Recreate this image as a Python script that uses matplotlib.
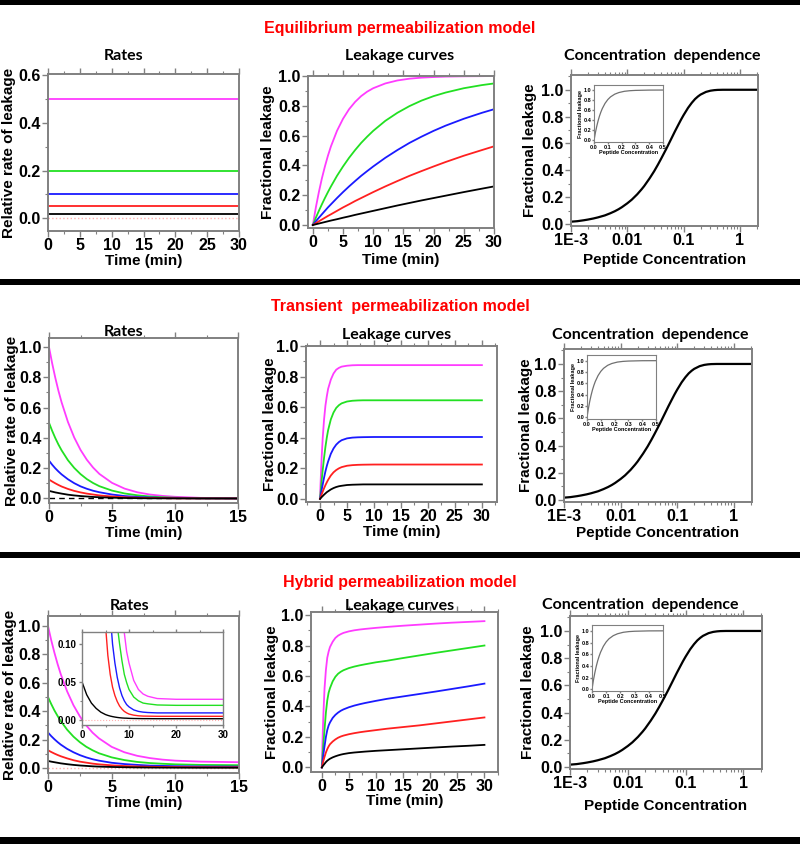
import numpy as np
import matplotlib.pyplot as plt
from matplotlib.patches import Rectangle
from matplotlib.ticker import MultipleLocator, FixedLocator, LogLocator, NullFormatter

plt.rcParams['font.family'] = ['Liberation Sans', 'DejaVu Sans']
plt.rcParams['font.weight'] = 'bold'
plt.rcParams['axes.labelweight'] = 'bold'

# ---------------- data ----------------
colors = ['#ff3cff', '#22e022', '#1a1aff', '#ff2020', 'black']

# equilibrium model: constant rates
eq_rate_levels = [0.5, 0.2, 0.1, 0.05, 0.02]
eq_rate_t = [0, 30]

# equilibrium leakage curves
eq_t = [0, 0.5, 1, 1.5, 2, 2.5, 3, 4, 5, 6, 7, 8, 9, 10, 12, 14, 16, 18, 20, 22, 25, 28, 30]
eq_magenta = [0, 0.118, 0.221, 0.313, 0.393, 0.465, 0.528, 0.632, 0.713, 0.777, 0.826, 0.865, 0.895,
              0.918, 0.950, 0.970, 0.982, 0.989, 0.993, 0.996, 0.998, 0.999, 1.0]
eq_green = [0, 0.049, 0.095, 0.139, 0.181, 0.221, 0.259, 0.33, 0.393, 0.451, 0.503, 0.551, 0.593,
            0.632, 0.699, 0.753, 0.798, 0.835, 0.865, 0.889, 0.918, 0.939, 0.950]
eq_blue = [0, 0.025, 0.049, 0.072, 0.095, 0.118, 0.139, 0.181, 0.221, 0.259, 0.295, 0.33, 0.362,
           0.393, 0.451, 0.503, 0.551, 0.593, 0.632, 0.667, 0.713, 0.753, 0.777]
eq_red = [0, 0.012, 0.025, 0.037, 0.049, 0.061, 0.072, 0.095, 0.118, 0.139, 0.161, 0.181, 0.201,
          0.221, 0.259, 0.295, 0.33, 0.362, 0.393, 0.423, 0.465, 0.503, 0.528]
eq_black = [0, 0.005, 0.01, 0.015, 0.02, 0.025, 0.03, 0.039, 0.049, 0.058, 0.068, 0.077, 0.086,
            0.095, 0.113, 0.131, 0.148, 0.165, 0.181, 0.197, 0.221, 0.244, 0.259]

# transient model: decaying rates
tr_rate_t = [0, 0.25, 0.5, 0.75, 1, 1.5, 2, 2.5, 3, 3.5, 4, 5, 6, 7, 8, 9, 10, 12, 15]
tr_rate_magenta = [1.0, 0.893, 0.797, 0.711, 0.635, 0.506, 0.403, 0.321, 0.256, 0.204, 0.162, 0.103,
                   0.065, 0.041, 0.026, 0.017, 0.011, 0.004, 0.001]
tr_rate_green = [0.5, 0.447, 0.399, 0.356, 0.318, 0.253, 0.202, 0.161, 0.128, 0.102, 0.081, 0.052,
                 0.033, 0.021, 0.013, 0.008, 0.005, 0.002, 0.0005]
tr_rate_blue = [0.25, 0.223, 0.199, 0.178, 0.159, 0.127, 0.101, 0.080, 0.064, 0.051, 0.041, 0.026,
                0.016, 0.010, 0.0065, 0.004, 0.003, 0.001, 0.0]
tr_rate_red = [0.125, 0.112, 0.100, 0.089, 0.079, 0.063, 0.050, 0.040, 0.032, 0.026, 0.020, 0.013,
               0.008, 0.005, 0.003, 0.002, 0.001, 0.0005, 0.0]
tr_rate_black = [0.05, 0.045, 0.040, 0.036, 0.032, 0.025, 0.020, 0.016, 0.013, 0.010, 0.008, 0.005,
                 0.003, 0.002, 0.001, 0.001, 0.0005, 0.0, 0.0]

# transient leakage curves
tr_t = [0, 0.1, 0.2, 0.3, 0.5, 0.75, 1, 1.25, 1.5, 2, 2.5, 3, 3.5, 4, 5, 6, 7, 8, 10, 15, 20, 30]
tr_magenta = [0, 0.10, 0.19, 0.27, 0.40, 0.52, 0.61, 0.67, 0.72, 0.78, 0.82, 0.845, 0.857, 0.865,
              0.871, 0.874, 0.875, 0.875, 0.875, 0.875, 0.875, 0.875]
tr_green = [0, 0.04, 0.08, 0.12, 0.19, 0.27, 0.34, 0.40, 0.45, 0.52, 0.565, 0.595, 0.613, 0.625,
            0.637, 0.642, 0.644, 0.645, 0.645, 0.645, 0.645, 0.645]
tr_blue = [0, 0.02, 0.04, 0.06, 0.095, 0.14, 0.18, 0.215, 0.245, 0.295, 0.33, 0.355, 0.372, 0.384,
           0.396, 0.401, 0.403, 0.404, 0.405, 0.405, 0.405, 0.405]
tr_red = [0, 0.01, 0.02, 0.03, 0.048, 0.07, 0.09, 0.108, 0.125, 0.153, 0.174, 0.189, 0.2, 0.208,
          0.217, 0.221, 0.223, 0.224, 0.225, 0.225, 0.225, 0.225]
tr_black = [0, 0.004, 0.008, 0.012, 0.019, 0.028, 0.036, 0.044, 0.05, 0.062, 0.071, 0.078, 0.083,
            0.086, 0.091, 0.093, 0.094, 0.095, 0.095, 0.095, 0.095, 0.095]

# hybrid model: decaying rates with a residual level
hy_rate_t = [0, 0.25, 0.5, 0.75, 1, 1.5, 2, 2.5, 3, 3.5, 4, 5, 6, 7, 8, 9, 10, 12, 15]
hy_rate_magenta = [1.0, 0.901, 0.813, 0.733, 0.661, 0.54, 0.442, 0.364, 0.30, 0.249, 0.209, 0.149,
                   0.111, 0.086, 0.070, 0.059, 0.052, 0.045, 0.041]
hy_rate_green = [0.5, 0.451, 0.406, 0.367, 0.331, 0.270, 0.221, 0.182, 0.150, 0.125, 0.104, 0.075,
                 0.056, 0.043, 0.035, 0.030, 0.026, 0.022, 0.020]
hy_rate_blue = [0.25, 0.225, 0.203, 0.183, 0.165, 0.135, 0.111, 0.091, 0.075, 0.062, 0.052, 0.037,
                0.028, 0.022, 0.017, 0.015, 0.013, 0.011, 0.010]
hy_rate_red = [0.125, 0.113, 0.102, 0.092, 0.083, 0.068, 0.055, 0.045, 0.038, 0.031, 0.026, 0.019,
               0.014, 0.011, 0.009, 0.007, 0.0066, 0.0056, 0.005]
hy_rate_black = [0.05, 0.045, 0.041, 0.037, 0.033, 0.027, 0.022, 0.018, 0.015, 0.012, 0.010, 0.0075,
                 0.0056, 0.0043, 0.0035, 0.003, 0.0026, 0.0022, 0.002]

# hybrid rates inset (0-30 min)
hyi_t = [0, 1, 2, 3, 4, 5, 5.5, 6, 6.5, 7, 7.5, 8, 8.5, 9, 9.5, 10, 11, 12, 13, 14, 16, 20, 25, 30]
hyi_magenta = [1.0, 1.0, 1.0, 0.9, 0.8, 0.6, 0.5, 0.42, 0.33, 0.26, 0.2, 0.16, 0.135, 0.115, 0.09,
               0.075, 0.052, 0.04, 0.034, 0.031, 0.028, 0.027, 0.027, 0.027]
hyi_green = [1.0, 0.9, 0.8, 0.7, 0.6, 0.45, 0.37, 0.3, 0.22, 0.16, 0.125, 0.10, 0.078, 0.06, 0.049,
             0.04, 0.03, 0.025, 0.022, 0.021, 0.0195, 0.019, 0.019, 0.019]
hyi_blue = [0.9, 0.8, 0.7, 0.6, 0.45, 0.3, 0.2, 0.14, 0.1, 0.075, 0.056, 0.042, 0.032, 0.025, 0.02,
            0.017, 0.013, 0.011, 0.010, 0.0095, 0.009, 0.009, 0.009, 0.009]
hyi_red = [0.6, 0.5, 0.4, 0.3, 0.2, 0.125, 0.085, 0.06, 0.043, 0.032, 0.024, 0.018, 0.014, 0.011,
           0.009, 0.0075, 0.006, 0.0052, 0.0048, 0.0047, 0.0045, 0.0045, 0.0045, 0.0045]
hyi_black = [0.05, 0.033, 0.022, 0.015, 0.010, 0.0068, 0.0057, 0.0048, 0.0041, 0.0035, 0.003, 0.0026,
             0.0023, 0.0021, 0.002, 0.0018, 0.0016, 0.0015, 0.0014, 0.0014, 0.0013, 0.0013, 0.0013, 0.0013]

# hybrid leakage curves
hy_t = [0, 0.1, 0.2, 0.3, 0.5, 0.75, 1, 1.25, 1.5, 2, 2.5, 3, 3.5, 4, 5, 6, 7, 8, 10, 12, 15, 18,
        21, 24, 27, 30]
hy_magenta = [0, 0.14, 0.26, 0.36, 0.52, 0.64, 0.72, 0.76, 0.79, 0.825, 0.85, 0.865, 0.875, 0.883,
              0.893, 0.9, 0.905, 0.909, 0.916, 0.922, 0.93, 0.937, 0.944, 0.95, 0.955, 0.96]
hy_green = [0, 0.06, 0.11, 0.16, 0.25, 0.36, 0.44, 0.49, 0.52, 0.565, 0.595, 0.615, 0.628, 0.638,
            0.652, 0.662, 0.67, 0.677, 0.69, 0.70, 0.718, 0.735, 0.752, 0.768, 0.784, 0.80]
hy_blue = [0, 0.03, 0.06, 0.09, 0.14, 0.20, 0.245, 0.275, 0.295, 0.325, 0.345, 0.36, 0.372, 0.381,
           0.395, 0.406, 0.415, 0.423, 0.437, 0.45, 0.466, 0.482, 0.498, 0.515, 0.532, 0.55]
hy_red = [0, 0.015, 0.03, 0.045, 0.07, 0.098, 0.12, 0.138, 0.152, 0.17, 0.184, 0.195, 0.203, 0.209,
          0.218, 0.225, 0.231, 0.236, 0.245, 0.254, 0.265, 0.276, 0.289, 0.302, 0.315, 0.328]
hy_black = [0, 0.005, 0.01, 0.015, 0.024, 0.035, 0.044, 0.051, 0.057, 0.066, 0.073, 0.079, 0.084,
            0.088, 0.094, 0.098, 0.101, 0.104, 0.109, 0.113, 0.119, 0.125, 0.131, 0.137, 0.142, 0.148]

# concentration dependence (same shape in all three models)
conc = [0.001, 0.0013, 0.0017, 0.002, 0.0025, 0.003, 0.004, 0.005, 0.006, 0.007, 0.008, 0.01,
        0.012, 0.015, 0.018, 0.02, 0.025, 0.03, 0.035, 0.04, 0.045, 0.05, 0.06, 0.07, 0.08, 0.09,
        0.1, 0.12, 0.14, 0.16, 0.18, 0.2, 0.25, 0.3, 0.35, 0.4, 0.5, 0.7, 1.0, 2.0]
conc_leak = [0.017, 0.021, 0.028, 0.033, 0.041, 0.049, 0.064, 0.080, 0.095, 0.110, 0.125, 0.154,
             0.181, 0.221, 0.259, 0.283, 0.341, 0.393, 0.442, 0.487, 0.528, 0.565, 0.632, 0.689,
             0.736, 0.777, 0.811, 0.865, 0.903, 0.931, 0.950, 0.964, 0.984, 0.993, 0.997, 0.999,
             1.0, 1.0, 1.0, 1.0]
conc_lin = [0, 0.01, 0.02, 0.03, 0.04, 0.05, 0.06, 0.08, 0.1, 0.12, 0.15, 0.18, 0.22, 0.26, 0.3, 0.4, 0.5]
conc_lin_leak = [0, 0.154, 0.283, 0.393, 0.487, 0.565, 0.632, 0.736, 0.811, 0.865, 0.918, 0.95,
                 0.975, 0.987, 0.993, 0.999, 1.0]

W, H = 800, 844
fig = plt.figure(figsize=(8, 8.44), dpi=100)
GRAY = '#808080'
TICK_FS = 11.5
LAB_FS = 11


def ax_px(l, t, r, b):
    return fig.add_axes([l / W, 1 - b / H, (r - l) / W, (b - t) / H])


def style(ax, xlim, ylim, fs=TICK_FS, lw=1.4, mlen=4):
    ax.set_xlim(xlim)
    ax.set_ylim(ylim)
    for s in ax.spines.values():
        s.set_color(GRAY)
        s.set_linewidth(lw)
    ax.tick_params(which='both', direction='out', color=GRAY, top=True, labeltop=False,
                   labelsize=fs, pad=1.2)
    ax.tick_params(which='major', length=mlen, width=1)
    ax.tick_params(which='minor', length=mlen / 2, width=0.8)


def labels(ax, xl, yl, xpx, ypx, fs=LAB_FS):
    # xpx: x position of ylabel centre, ypx: y position of xlabel centre (figure pixels)
    bb = ax.get_position()
    l, r = bb.x0 * W, bb.x1 * W
    top, bot = (1 - bb.y1) * H, (1 - bb.y0) * H
    ax.set_xlabel(xl, fontsize=fs)
    ax.set_ylabel(yl, fontsize=fs)
    ax.yaxis.set_label_coords((xpx - l) / (r - l), 0.5)
    ax.xaxis.set_label_coords(0.5, (bot - ypx) / (bot - top))
    ax.xaxis.label.set_va('center')
    ax.yaxis.label.set_va('center')


def time_axis(ax, step):
    ax.xaxis.set_major_locator(MultipleLocator(step))
    ax.xaxis.set_minor_locator(MultipleLocator(step / 2))


def frac_axis(ax):
    ax.yaxis.set_major_locator(MultipleLocator(0.2))
    ax.yaxis.set_minor_locator(MultipleLocator(0.1))


def conc_panel(box, ibox, xpx, ypx):
    ax = ax_px(*box)
    ax.plot(conc, conc_leak, color='black', lw=1.6)
    ax.set_xscale('log')
    style(ax, (0.001, 2.1), (-0.015, 1.11))
    ax.xaxis.set_major_locator(FixedLocator([0.001, 0.01, 0.1, 1]))
    ax.set_xticklabels(['1E-3', '0.01', '0.1', '1'])
    ax.xaxis.set_minor_locator(LogLocator(base=10, subs=np.arange(2, 10)))
    ax.xaxis.set_minor_formatter(NullFormatter())
    frac_axis(ax)
    labels(ax, 'Peptide Concentration', 'Fractional leakage', xpx, ypx)
    ia = ax_px(*ibox)
    ia.plot(conc_lin, conc_lin_leak, color='#707070', lw=0.9)
    style(ia, (0, 0.5), (-0.03, 1.1), fs=4, lw=0.8, mlen=1.5)
    ia.tick_params(top=False, pad=0.5)
    ia.xaxis.set_major_locator(MultipleLocator(0.1))
    ia.yaxis.set_major_locator(MultipleLocator(0.2))
    ia.set_xlabel('Peptide Concentration', fontsize=4, labelpad=0.5)
    ia.set_ylabel('Fractional leakage', fontsize=4, labelpad=0.5)
    return ax


def leak_panel(box, t, curves, xlim, ylim, xpx, ypx):
    ax = ax_px(*box)
    for c, y in zip(colors, curves):
        ax.plot(t, y, color=c, lw=1.3)
    style(ax, xlim, ylim)
    time_axis(ax, 5)
    frac_axis(ax)
    labels(ax, 'Time (min)', 'Fractional leakage', xpx, ypx)
    return ax


# ---------------- row 1: equilibrium ----------------
a = ax_px(48, 74, 239, 231)
a.axhline(0, color='#ffb0b0', lw=1, ls=':')
for c, v in zip(colors, eq_rate_levels):
    a.plot(eq_rate_t, [v, v], color=c, lw=1.3)
style(a, (0, 30), (-0.053, 0.605))
time_axis(a, 5)
frac_axis(a)
labels(a, 'Time (min)', 'Relative rate of leakage', 9, 261)

leak_panel((308, 76, 494, 228), eq_t, [eq_magenta, eq_green, eq_blue, eq_red, eq_black],
           (-0.8, 30), (-0.02, 1.0), 268, 260)
conc_panel((571, 75, 758, 226), (594, 85, 663, 142), 530, 260)

# ---------------- row 2: transient ----------------
b = ax_px(49, 338, 238, 503)
b.axhline(0, color='black', lw=1, ls=(0, (4, 3)))
for c, y in zip(colors, [tr_rate_magenta, tr_rate_green, tr_rate_blue, tr_rate_red, tr_rate_black]):
    b.plot(tr_rate_t, y, color=c, lw=1.3)
style(b, (0, 15), (-0.03, 1.06))
time_axis(b, 5)
frac_axis(b)
labels(b, 'Time (min)', 'Relative rate of leakage', 12, 533)

leak_panel((306, 346, 497, 502), tr_t, [tr_magenta, tr_green, tr_blue, tr_red, tr_black],
           (-2.6, 32.8), (-0.02, 1.0), 270, 532)
conc_panel((564, 349, 752, 502), (587, 355, 656, 419), 526, 533)

# ---------------- row 3: hybrid ----------------
c3 = ax_px(48, 616, 239, 773)
c3.axhline(0, color='#ffb0b0', lw=1, ls=':')
for c, y in zip(colors, [hy_rate_magenta, hy_rate_green, hy_rate_blue, hy_rate_red, hy_rate_black]):
    c3.plot(hy_rate_t, y, color=c, lw=1.3)
style(c3, (0, 15), (-0.035, 1.07))
time_axis(c3, 5)
frac_axis(c3)
labels(c3, 'Time (min)', 'Relative rate of leakage', 10, 803)

ci = ax_px(82, 632, 223, 725)
ci.axhline(0, color='#ffb0b0', lw=0.8, ls=':')
for c, y in zip(colors, [hyi_magenta, hyi_green, hyi_blue, hyi_red, hyi_black]):
    ci.plot(hyi_t, y, color=c, lw=1.0)
style(ci, (0, 30), (-0.007, 0.116), fs=7, lw=1.0, mlen=2.5)
ci.xaxis.set_major_locator(MultipleLocator(10))
ci.xaxis.set_minor_locator(MultipleLocator(5))
ci.yaxis.set_major_locator(FixedLocator([0.0, 0.05, 0.10]))
ci.yaxis.set_major_formatter(plt.FuncFormatter(lambda v, p: f'{v:.2f}'))
ci.yaxis.set_minor_locator(MultipleLocator(0.025))

leak_panel((311, 612, 498, 772), hy_t, [hy_magenta, hy_green, hy_blue, hy_red, hy_black],
           (-2.0, 32.5), (-0.03, 1.02), 272, 801)
conc_panel((570, 616, 762, 769), (592, 625, 663, 691), 528, 806)

# ---------------- titles ----------------
for y, s in [(29, 'Equilibrium permeabilization model'),
             (306, 'Transient  permeabilization model'),
             (582, 'Hybrid permeabilization model')]:
    fig.text(400 / W, 1 - y / H, s, color='red', fontsize=11.5, fontweight='bold',
             ha='center', va='center')

title_font = ['Lato', 'DejaVu Sans']
for (x, y, s) in [(124, 56, 'Rates'), (400, 56, 'Leakage curves'), (662, 56, 'Concentration  dependence'),
                  (124, 332, 'Rates'), (397, 335, 'Leakage curves'), (650, 335, 'Concentration  dependence'),
                  (130, 606, 'Rates'), (400, 606, 'Leakage curves'), (640, 605, 'Concentration  dependence')]:
    fig.text(x / W, 1 - y / H, s, fontsize=11.5, fontweight='bold', family=title_font,
             ha='center', va='center')

# white strip that crops the bottom of the middle "Time (min)" label
fig.add_artist(Rectangle((290 / W, 1 - 552 / H), 220 / W, 14 / H, transform=fig.transFigure,
                         facecolor='white', edgecolor='none', zorder=9))

# black separator bars
for y0, h in [(0, 5), (279, 6), (552, 6), (837, 7)]:
    fig.add_artist(Rectangle((0, 1 - (y0 + h) / H), 1, h / H, transform=fig.transFigure,
                             facecolor='black', edgecolor='none', zorder=10))

fig.savefig('out.png', dpi=100)
